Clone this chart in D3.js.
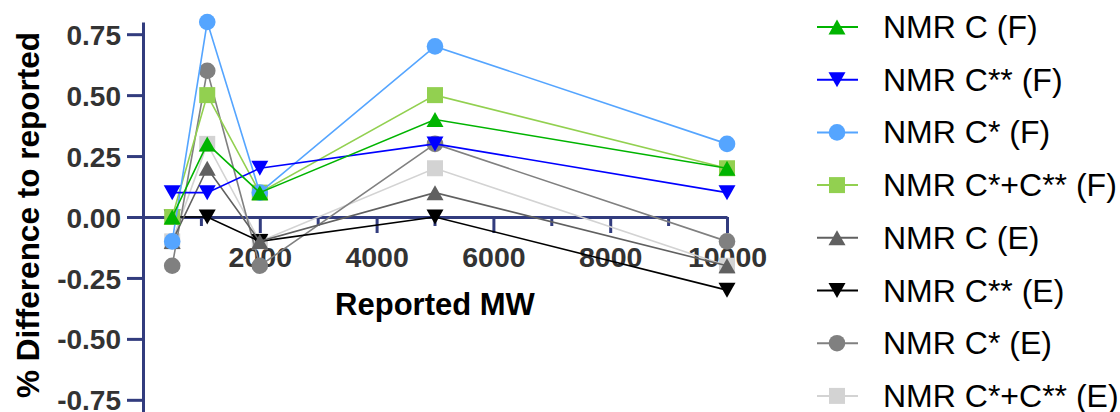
<!DOCTYPE html>
<html>

<head>
    <meta charset="utf-8">
    <title></title>
    <script src="https://d3js.org/d3.v7.min.js"></script>
    <style>
        html,
        body {
            margin: 0;
            padding: 0;
            background: white;
        }

        text {
            font-family: "Liberation Sans", Arial, sans-serif;
        }
    </style>
</head>

<body>

    <div id="chart"></div>

    <script>
        // Reported molecular weights (x values)
        const reportedMW = [500, 1100, 2000, 5000, 10000];

        // % difference to reported, one array per series
        const nmrC_F = [0.00, 0.30, 0.10, 0.40, 0.20];
        const nmrCss_F = [0.10, 0.10, 0.20, 0.30, 0.10];
        const nmrCs_F = [-0.10, 0.80, 0.10, 0.70, 0.30];
        const nmrCsCss_F = [0.00, 0.50, 0.10, 0.50, 0.20];
        const nmrC_E = [-0.10, 0.20, -0.10, 0.10, -0.20];
        const nmrCss_E = [0.00, 0.00, -0.10, 0.00, -0.30];
        const nmrCs_E = [-0.20, 0.60, -0.20, 0.30, -0.10];
        const nmrCsCss_E = [-0.10, 0.30, -0.10, 0.20, -0.20];

        const seriesNames = ["NMR C (F)", "NMR C** (F)", "NMR C* (F)", "NMR C*+C** (F)",
            "NMR C (E)", "NMR C** (E)", "NMR C* (E)", "NMR C*+C** (E)"];
        const seriesValues = [nmrC_F, nmrCss_F, nmrCs_F, nmrCsCss_F, nmrC_E, nmrCss_E, nmrCs_E, nmrCsCss_E];

        // axis ticks
        const yTicks = [-0.75, -0.50, -0.25, 0.00, 0.25, 0.50, 0.75];
        const xMajorTicks = [2000, 4000, 6000, 8000, 10000];
        const xMinorTicks = [1000, 3000, 5000, 7000, 9000];

        // styles
        const colors = ["#00b400", "#0000ff", "#55a5ff", "#92d050", "#606060", "#000000", "#808080", "#d3d3d3"];
        const shapes = ["up", "down", "circle", "square", "up", "down", "circle", "square"];
        const axisColor = "#323c7e";

        const W = 1120, H = 412;

        const svg = d3.select("#chart")
            .append("svg")
            .attr("width", W)
            .attr("height", H);

        const xScale = d3.scaleLinear().domain([0, 10000]).range([143, 727]);
        const yScale = d3.scaleLinear().domain([-0.8, 0.8]).range([412, 22]);

        // marker drawing (triangles centred on their bounding box)
        function marker(g, shape, color) {
            if (shape === "circle") {
                g.append("circle").attr("r", 8.3).attr("fill", color);
            } else if (shape === "square") {
                g.append("rect").attr("x", -8).attr("y", -8).attr("width", 16).attr("height", 16).attr("fill", color);
            } else {
                const w = 17, h = 15;
                const p = shape === "up"
                    ? `M0,${-h / 2}L${w / 2},${h / 2}L${-w / 2},${h / 2}Z`
                    : `M0,${h / 2}L${w / 2},${-h / 2}L${-w / 2},${-h / 2}Z`;
                g.append("path").attr("d", p).attr("fill", color);
            }
        }

        // Y axis
        const yAxis = svg.append("g")
            .attr("transform", `translate(${xScale(0)},0)`)
            .call(d3.axisLeft(yScale)
                .tickValues(yTicks)
                .tickFormat((d) => d.toFixed(2))
                .tickSize(16)
                .tickSizeOuter(0)
                .tickPadding(6));
        yAxis.select(".domain").attr("stroke", axisColor).attr("stroke-width", 3);
        yAxis.selectAll(".tick line").attr("stroke", axisColor).attr("stroke-width", 3);
        yAxis.selectAll(".tick text")
            .attr("fill", "#333")
            .style("font-size", "28px")
            .style("font-weight", "bold")
            .attr("dy", "0.36em");

        // X axis (at y = 0)
        const xAxis = svg.append("g")
            .attr("transform", `translate(0,${yScale(0)})`)
            .call(d3.axisBottom(xScale)
                .tickValues(xMajorTicks)
                .tickFormat(d3.format("d"))
                .tickSize(16)
                .tickSizeOuter(0)
                .tickPadding(14));
        xAxis.select(".domain").attr("stroke", axisColor).attr("stroke-width", 3);
        xAxis.selectAll(".tick line").attr("stroke", axisColor).attr("stroke-width", 3);
        xAxis.selectAll(".tick text")
            .attr("fill", "#333")
            .style("font-size", "28.5px")
            .style("font-weight", "bold");

        svg.append("g")
            .selectAll("line")
            .data(xMinorTicks)
            .enter()
            .append("line")
            .attr("x1", (d) => xScale(d))
            .attr("x2", (d) => xScale(d))
            .attr("y1", yScale(0))
            .attr("y2", yScale(0) + 9)
            .attr("stroke", axisColor)
            .attr("stroke-width", 3);

        // axis titles
        svg.append("text")
            .attr("x", 435)
            .attr("y", 315)
            .attr("text-anchor", "middle")
            .style("font-size", "31px")
            .style("font-weight", "bold")
            .text("Reported MW");

        svg.append("text")
            .attr("transform", `translate(39,215) rotate(-90)`)
            .attr("text-anchor", "middle")
            .style("font-size", "31.5px")
            .style("font-weight", "bold")
            .text("% Difference to reported");

        // series: the first series is drawn on top, so draw in reverse
        const line = d3.line()
            .x((d) => xScale(d.x))
            .y((d) => yScale(d.y));

        for (let i = seriesValues.length - 1; i >= 0; i--) {
            const pts = reportedMW.map((x, j) => ({ x: x, y: seriesValues[i][j] }));
            const g = svg.append("g");
            g.append("path")
                .datum(pts)
                .attr("fill", "none")
                .attr("stroke", colors[i])
                .attr("stroke-width", 1.6)
                .attr("d", line);
            pts.forEach((p) => {
                const m = g.append("g").attr("transform", `translate(${xScale(p.x)},${yScale(p.y)})`);
                marker(m, shapes[i], colors[i]);
            });
        }

        // legend
        const legend = svg.append("g").attr("transform", "translate(817,27)");
        seriesNames.forEach((name, i) => {
            const row = legend.append("g").attr("transform", `translate(0,${i * 52.7})`);
            row.append("line")
                .attr("x1", 0).attr("x2", 41)
                .attr("stroke", colors[i])
                .attr("stroke-width", 2);
            const m = row.append("g").attr("transform", "translate(20,0)");
            marker(m, shapes[i], colors[i]);
            row.append("text")
                .attr("x", 66)
                .attr("y", 11)
                .style("font-size", "32px")
                .attr("fill", "black")
                .text(name);
        });
    </script>
</body>

</html>
